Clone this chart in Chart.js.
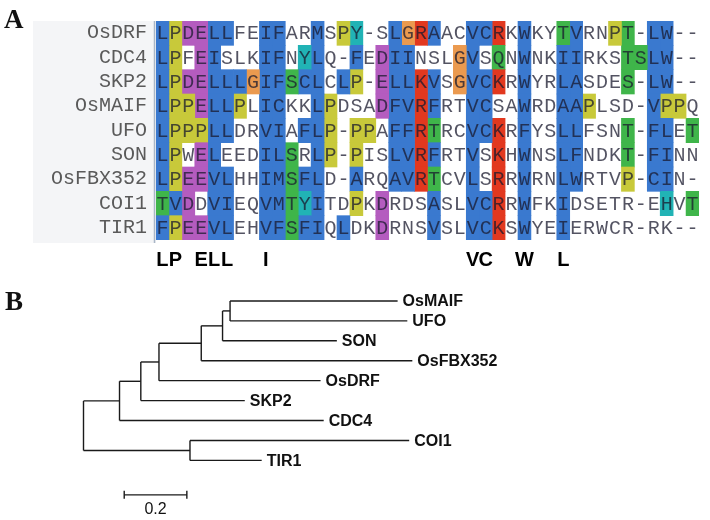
<!DOCTYPE html>
<html>
<head>
<meta charset="utf-8">
<script src="https://cdn.jsdelivr.net/npm/chart.js@4.4.1/dist/chart.umd.min.js"></script>
<style>
  body { margin: 0; background: #fff; width: 710px; height: 520px; position: relative; overflow: hidden; }
  canvas { position: absolute; left: 0; }
  #alignChart { top: 0; }
  #treeChart { top: 270px; }
  .panel { position: absolute; font: bold 27px "Liberation Serif", "Times New Roman", serif; line-height: 27px; color: #111; }
</style>
</head>
<body>
<canvas id="alignChart" width="710" height="275"></canvas>
<canvas id="treeChart" width="710" height="250"></canvas>
<div class="panel" style="left:4px;top:6px">A</div>
<div class="panel" style="left:5px;top:288px">B</div>
<script>
// panel A: alignment
const seqNames = ['OsDRF', 'CDC4', 'SKP2', 'OsMAIF', 'UFO', 'SON', 'OsFBX352', 'COI1', 'TIR1']
const sequences = [
    'LPDELLFEIFARMSPY-SLGRAACVCRKWKYTVRNPT-LW--',
    'LPFEISLKIFNYLQ-FEDIINSLGVSQNWNKIIRKSTSLW--',
    'LPDELLLGIFSCLCLP-ELLKVSGVCKRWYRLASDES-LW--',
    'LPPELLPLICKKLPDSADFVRFRTVCSAWRDAAPLSD-VPPQ',
    'LPPPLLDRVIAFLP-PPAFFRTRCVCKRFYSLLFSNT-FLET',
    'LPWELEEDILSRLP-PISLVRFRTVSKHWNSLFNDKT-FINN',
    'LPEEVLHHIMSFLD-ARQAVRTCVLSRRWRNLWRTVP-CIN-',
    'TVDDVIEQVMTYITDPKDRDSASLVCRRWFKIDSETR-EHVT',
    'FPEEVLEHVFSFIQLDKDRNSVSLVCKSWYEIERWCR-RK--'
]
// B blue, Y yellow, M magenta, G green, C cyan, O orange, R red, . none
const colourCodes = [
    'BYMMBB..BB..B.YC..BORB..BBR.B..GB..YG.BB..',
    'BY.MB...BB.CB..B.MBB...OB.G.B..BB...GGBB..',
    'BYMMBBBOBBGBB.BY.MBBRB.OBBR.B..BB...G.BB..',
    'BYYMBBY.BB..BY...MBBRB..BB..B..BBY....BYY.',
    'BYYYBB..BB.BBY.YY.BBRG..BBR.B..BB...G.BB.G',
    'BY.MB...BBG.BY.Y..BBRB..B.R.B..BB...G.BB..',
    'BYMMBB..BBGBB..B..BBRG..B.R.B..BB...Y.BB..',
    'GBM.BB..BBGCB..Y.M...B..BBR.B..B.......C.G',
    'BYMMBB..BBGBB.B..M...B..BBR.B..B..........'
]
const consensusCols = [0, 1, 3, 4, 5, 8, 24, 25, 28, 31]
const consensusLetters = ['L', 'P', 'E', 'L', 'L', 'I', 'V', 'C', 'W', 'L']

// panel B: tree (branch lengths)
const leafNames = ['OsMAIF', 'UFO', 'SON', 'OsFBX352', 'OsDRF', 'SKP2', 'CDC4', 'COI1', 'TIR1']
const leafBranch = [0.535, 0.566, 0.365, 0.674, 0.516, 0.332, 0.652, 0.700, 0.229]
const nodeNames = ['n1', 'n2', 'n3', 'n4', 'n5', 'n6', 'n7', 'root']
const nodeChildren = [['OsMAIF', 'UFO'], ['n1', 'SON'], ['n2', 'OsFBX352'], ['n3', 'OsDRF'], ['n4', 'SKP2'], ['n5', 'CDC4'], ['COI1', 'TIR1'], ['n6', 'n7']]
const nodeBranch = [0.024, 0.068, 0.135, 0.058, 0.068, 0.115, 0.340, 0]
const scaleBarLength = 0.2

const palette = {
    B: '#3a79cf',
    Y: '#c8c93a',
    M: '#b45cbf',
    G: '#3fb54a',
    C: '#21b3b5',
    O: '#eb9a4f',
    R: '#e2381f'
}
const nCols = sequences[0].length
const monoFont = '"Liberation Mono", "DejaVu Sans Mono", monospace'

const alignDatasets = []
for (let j = 0; j < nCols; j++) {
    alignDatasets.push({
        data: seqNames.map(() => 1),
        backgroundColor: seqNames.map((_, r) => palette[colourCodes[r][j]] || 'rgba(0,0,0,0)'),
        borderWidth: 0,
        barPercentage: 1,
        categoryPercentage: 1
    })
}

const alignPlugin = {
    id: 'alignLetters',
    beforeDraw(chart) {
        const { ctx, chartArea } = chart
        ctx.save()
        ctx.fillStyle = '#f4f5f7'
        ctx.fillRect(33, chartArea.top, chartArea.left - 33, chartArea.bottom - chartArea.top + 3)
        ctx.strokeStyle = '#a9b6c6'
        ctx.lineWidth = 1.5
        ctx.beginPath()
        ctx.moveTo(chartArea.left - 1.5, chartArea.top)
        ctx.lineTo(chartArea.left - 1.5, chartArea.bottom + 3)
        ctx.stroke()
        ctx.restore()
    },
    afterDatasetsDraw(chart) {
        const { ctx } = chart
        const xs = chart.scales.x
        const ys = chart.scales.y
        ctx.save()
        ctx.font = '20px ' + monoFont
        ctx.textAlign = 'center'
        ctx.textBaseline = 'middle'
        ctx.fillStyle = 'rgba(25,25,45,0.75)'
        sequences.forEach((seq, r) => {
            const y = ys.getPixelForValue(r)
            for (let j = 0; j < seq.length; j++) {
                ctx.fillText(seq[j], xs.getPixelForValue(j + 0.5), y + 1)
            }
        })
        ctx.restore()
    }
}

new Chart(document.getElementById('alignChart').getContext('2d'), {
    type: 'bar',
    data: { labels: seqNames, datasets: alignDatasets },
    options: {
        indexAxis: 'y',
        responsive: false,
        animation: false,
        events: [],
        layout: { padding: { top: 8, right: 11, left: 0, bottom: 0 } },
        plugins: { legend: { display: false }, tooltip: { enabled: false } },
        scales: {
            x: {
                stacked: true,
                min: 0,
                max: nCols,
                grid: { display: false, drawTicks: false },
                border: { display: false },
                afterBuildTicks: (scale) => {
                    scale.ticks = consensusCols.map(c => ({ value: c + 0.5 }))
                },
                afterFit: (scale) => { scale.height = 35 },
                ticks: {
                    autoSkip: false,
                    maxRotation: 0,
                    padding: 8,
                    color: '#000',
                    font: { family: '"Liberation Sans", Arial, sans-serif', size: 20, weight: 'bold' },
                    callback: (value, index) => consensusLetters[index]
                }
            },
            y: {
                stacked: true,
                grid: { display: false, drawTicks: false },
                border: { display: false },
                afterFit: (scale) => { scale.width = 156 },
                ticks: {
                    autoSkip: false,
                    padding: 9,
                    color: '#5a5a5a',
                    font: { family: monoFont, size: 20 }
                }
            }
        }
    },
    plugins: [alignPlugin]
})

// tree layout from branch lengths
const segments = []
const place = (name, x0) => {
    const li = leafNames.indexOf(name)
    if (li >= 0) return { x: x0 + leafBranch[li], y: li }
    const ni = nodeNames.indexOf(name)
    const x = x0 + nodeBranch[ni]
    const kids = nodeChildren[ni].map(k => place(k, x))
    const kidY = kids.map(k => k.y)
    segments.push([{ x, y: Math.min(...kidY) }, { x, y: Math.max(...kidY) }])
    kids.forEach(k => segments.push([{ x, y: k.y }, { x: k.x, y: k.y }]))
    return { x, y: kidY.reduce((a, b) => a + b, 0) / kidY.length }
}
const leafX = leafNames.map(n => {
    let x = leafBranch[leafNames.indexOf(n)]
    let cur = n
    for (;;) {
        const p = nodeChildren.findIndex(kids => kids.includes(cur))
        if (p < 0) break
        x += nodeBranch[p]
        cur = nodeNames[p]
    }
    return x
})
place('root', 0)

const barX = 0.13
const barY = 9.73
const lineColour = '#1a1a1a'

const treeDatasets = segments.map(s => ({
    data: s,
    showLine: true,
    borderColor: lineColour,
    borderWidth: 1.4,
    pointRadius: 0,
    clip: false
}))
treeDatasets.push({
    data: [{ x: barX, y: barY }, { x: barX + scaleBarLength, y: barY }],
    showLine: true,
    borderColor: lineColour,
    borderWidth: 1.4,
    pointStyle: 'line',
    pointRotation: 90,
    pointRadius: 4,
    pointBorderWidth: 1.4,
    pointBorderColor: lineColour,
    clip: false
})

const treePlugin = {
    id: 'treeLabels',
    afterDatasetsDraw(chart) {
        const { ctx } = chart
        const xs = chart.scales.x
        const ys = chart.scales.y
        ctx.save()
        ctx.fillStyle = '#111'
        ctx.textBaseline = 'middle'
        ctx.textAlign = 'left'
        ctx.font = 'bold 16px "Liberation Sans", Arial, sans-serif'
        leafNames.forEach((n, i) => {
            ctx.fillText(n, xs.getPixelForValue(leafX[i]) + 5, ys.getPixelForValue(i) + 1)
        })
        ctx.textAlign = 'center'
        ctx.font = '16px "Liberation Sans", Arial, sans-serif'
        ctx.fillText(String(scaleBarLength), xs.getPixelForValue(barX + scaleBarLength / 2), ys.getPixelForValue(barY) + 15)
        ctx.restore()
    }
}

new Chart(document.getElementById('treeChart').getContext('2d'), {
    type: 'scatter',
    data: { datasets: treeDatasets },
    options: {
        responsive: false,
        animation: false,
        events: [],
        layout: { padding: 0 },
        plugins: { legend: { display: false }, tooltip: { enabled: false } },
        scales: {
            x: { display: false, min: -0.2494, max: 1.9833 },
            y: { display: false, reverse: true, min: -1.282, max: 10.72 }
        }
    },
    plugins: [treePlugin]
})
</script>
</body>
</html>
